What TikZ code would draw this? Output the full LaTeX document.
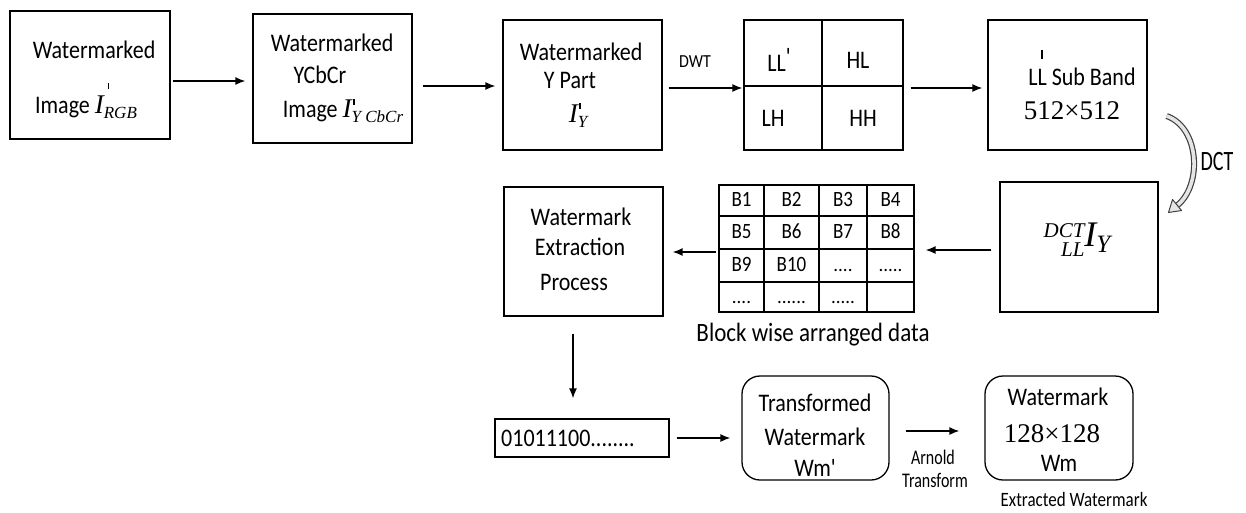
\RequirePackage{fix-cm}
\documentclass[tikz,border=0pt]{standalone}
\usepackage{graphicx}
\usepackage{fontspec}
\setmainfont{Carlito}
\newfontfamily\cam{Liberation Serif}
\newcommand\vs[1]{\scalebox{1}[1.15]{#1}}
\newcommand\fs[1]{\fontsize{#1}{#1}\selectfont}
\newcommand\tck[2]{\rlap{\kern#1\raisebox{#2}{\rule{1.6pt}{6pt}}}}
\usetikzlibrary{arrows.meta,calc}
\begin{document}
\begin{tikzpicture}[x=1pt,y=-1pt,
  box/.style={draw, line width=1.3pt, inner sep=0pt},
  rbox/.style={box, rounded corners=18pt},
  lbl/.style={inner sep=0pt, font=\fontsize{22}{26}\selectfont},
  cell/.style={inner sep=0pt, font=\fontsize{19}{22}\selectfont, text height=15pt, text depth=3pt},
  small/.style={inner sep=0pt, font=\fontsize{16}{18}\selectfont},
  arr/.style={line width=1.4pt, -{Latex[length=10pt,width=8pt]}}]
\useasboundingbox (0,0) rectangle (1246,512);

% ---- boxes
\node[box, minimum width=160pt, minimum height=128pt] (A) at (90,75) {};
\node[box, minimum width=159pt, minimum height=129pt] (B) at (332.5,78.5) {};
\node[box, minimum width=159pt, minimum height=130pt] (C) at (582.5,85) {};
\node[box, minimum width=159pt, minimum height=130pt] (D) at (823.5,85) {};
\node[box, minimum width=159pt, minimum height=130pt] (E) at (1067.5,85) {};
\node[box, minimum width=158pt, minimum height=130pt] (F) at (1079,247) {};
\node[box, minimum width=195pt, minimum height=127pt] (G) at (816.5,248.5) {};
\node[box, minimum width=159pt, minimum height=129pt] (H) at (583.5,251.5) {};
\node[box, minimum width=174pt, minimum height=38pt] (I) at (582,438) {};
\node[rbox, minimum width=147pt, minimum height=104pt] (J) at (815.5,428) {};
\node[rbox, minimum width=148pt, minimum height=104pt] (K) at (1059,428) {};

% ---- grid lines
\draw[line width=1.3pt] (822,20) -- (822,150) (744,86) -- (903,86);
\draw[line width=1.1pt] (764,185) -- (764,312) (819,185) -- (819,312) (867,185) -- (867,312)
  (719,216) -- (914,216) (719,249) -- (914,249) (719,282) -- (914,282);

% ---- texts in boxes
\node[lbl] (tA1) at (94,50) {\vs{Watermarked}};
\node[lbl] (tA2) at (86,101) {\vs{Image} {\cam\itshape\fs{27}I\tck{4pt}{24pt}\raisebox{-5pt}{\fs{17}RGB}}};
\node[lbl] (tB1) at (332,43) {\vs{Watermarked}};
\node[lbl] (tB2) at (320,75) {\vs{YCbCr}};
\node[lbl] (tB3) at (343,111) {\vs{Image} {\cam\itshape\fs{27}I\tck{1.5pt}{13pt}\raisebox{-5pt}{\fs{17}Y CbCr}}};
\node[lbl] (tC1) at (581,52) {\vs{Watermarked}};
\node[lbl] (tC2) at (570,80) {\vs{Y Part}};
\node[lbl] (tC3) at (578,115) {{\cam\itshape\fs{27}I\tck{1.5pt}{13pt}\raisebox{-5pt}{\fs{17}Y}}};
\node[lbl] (tD1) at (779,60) {\vs{LL\raisebox{6pt}{\textquotesingle}}};
\node[lbl] (tD2) at (858,60) {\vs{HL}};
\node[lbl] (tD3) at (773,118) {\vs{LH}};
\node[lbl] (tD4) at (863,118) {\vs{HH}};
\node[lbl] (tE1) at (1082,77) {\vs{LL Sub Band}};
\draw[line width=1.2pt] (1042,50) -- (1042,59);
\node[lbl] (tE2) at (1072,111) {{\cam\fs{27}512×512}};
\node[lbl] (tF) at (1077,240) {{\cam\itshape\raisebox{9pt}{\fs{21}DCT}\llap{\raisebox{-10pt}{\fs{21}LL}}\fs{36}I\raisebox{-6pt}{\fs{25}Y}}};
\node[lbl] (tH1) at (581,217) {\vs{Watermark}};
\node[lbl] (tH2) at (580,247) {\vs{Extraction}};
\node[lbl] (tH3) at (574,282) {\vs{Process}};
\node[lbl, anchor=west] (tI) at (501,438) {\vs{01011100........}};
\node[lbl] (tJ1) at (815,403) {\vs{Transformed}};
\node[lbl] (tJ2) at (815,437) {\vs{Watermark}};
\node[lbl] (tJ3) at (815,468) {\vs{Wm\textquotesingle}};
\node[lbl] (tK1) at (1058,397) {\vs{Watermark}};
\node[lbl] (tK2) at (1052,434) {{\cam\fs{27}128×128}};
\node[lbl] (tK3) at (1059,463) {\vs{Wm}};

% ---- block grid cells
\node[cell] (g11) at (741.5,200) {\vs{B1}};
\node[cell] (g12) at (791.5,200) {\vs{B2}};
\node[cell] (g13) at (843,200) {\vs{B3}};
\node[cell] (g14) at (890.5,200) {\vs{B4}};
\node[cell] (g21) at (741.5,232) {\vs{B5}};
\node[cell] (g22) at (791.5,232) {\vs{B6}};
\node[cell] (g23) at (843,232) {\vs{B7}};
\node[cell] (g24) at (890.5,232) {\vs{B8}};
\node[cell] (g31) at (741.5,265) {\vs{B9}};
\node[cell] (g32) at (791.5,265) {\vs{B10}};
\node[cell] (g33) at (843,265) {....};
\node[cell] (g34) at (890.5,265) {.....};
\node[cell] (g41) at (741.5,297) {....};
\node[cell] (g42) at (791.5,297) {......};
\node[cell] (g43) at (843,297) {.....};

% ---- free labels
\node[small] (lDWT) at (695,62) {\vs{DWT}};
\node[lbl, font=\fontsize{20}{24}\selectfont] (lDCT) at (1217,162) {\scalebox{1}[1.4]{DCT}};
\node[lbl, font=\fontsize{23}{27}\selectfont] (lBlk) at (813,335) {\vs{Block wise arranged data}};
\node[small] (lArn1) at (933,457) {\scalebox{1}[1.3]{Arnold}};
\node[small] (lArn2) at (935,480) {\scalebox{1}[1.3]{Transform}};
\node[small, font=\fontsize{17}{19}\selectfont] (lExt) at (1074,499) {\scalebox{1}[1.2]{Extracted Watermark}};

% ---- connectors
\draw[arr] ([shift={(2,6)}]A.east) -- ([shift={(-7,2.5)}]B.west);
\draw[arr] ([shift={(10,7.5)}]B.east) -- ([shift={(-7,1)}]C.west);
\draw[arr] ([shift={(6,3)}]C.east) -- ([shift={(-1,3)}]D.west);
\draw[arr] ([shift={(7,3)}]D.east) -- ([shift={(-5,3)}]E.west);
\draw[arr] ([shift={(-8,3)}]F.west) -- ([shift={(11,1.5)}]G.east);
\draw[arr] ([shift={(-2,3.5)}]G.west) -- ([shift={(9,0.5)}]H.east);
\draw[arr] ([shift={(-10.5,17)}]H.south) -- ([shift={(-9,-20)}]I.north);
\draw[arr] ([shift={(7,0)}]I.east) -- ([shift={(-11,10)}]J.west);
\draw[arr] ([shift={(16,3)}]J.east) -- ([shift={(-25,3)}]K.west);

% ---- curved DCT arrow (E to F)
\coordinate (d1) at ([shift={(19,31)}]E.east);
\coordinate (d2) at ([shift={(19,-42)}]F.east);
\draw[line width=6pt, black!75] (d1) .. controls (1200,128) and (1202,185) .. (d2);
\draw[line width=3.6pt, black!10] (d1) .. controls (1200,128) and (1202,185) .. (d2);
\filldraw[fill=black!10, draw=black!75, line width=1pt, line join=round]
  (1172.5,199.5) -- (1181.5,210.5) -- (1168.5,212.5) -- cycle;
\end{tikzpicture}
\end{document}
